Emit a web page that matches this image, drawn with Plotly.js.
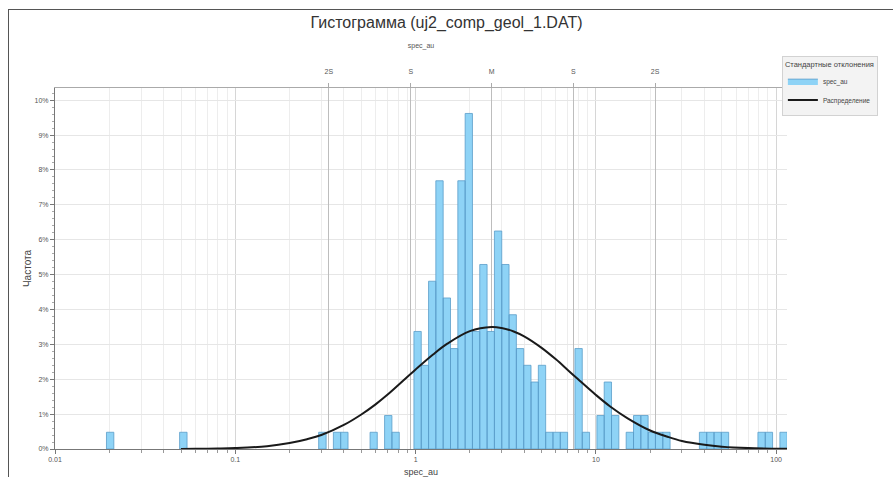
<!DOCTYPE html>
<html>
<head>
<meta charset="utf-8">
<script src="https://cdn.plot.ly/plotly-3.0.1.min.js"></script>
<style>
  html, body { margin: 0; padding: 0; background: #fff; overflow: hidden; }
  #chart { width: 893px; height: 477px; }
  #frame { position: absolute; left: 8px; top: 9px; width: 900px; height: 480px;
           border-left: 1px solid #555; border-top: 1px solid #555; pointer-events: none; }
</style>
</head>
<body>
<div id="chart"></div>
<div id="frame"></div>
<script>
// ---- Data ----
// Histogram bins (log-spaced), lower / upper edges in spec_au units
const binLo = [0.0193, 0.0491, 0.290, 0.350, 0.384, 0.559, 0.673, 0.739,
  0.979, 1.075, 1.180, 1.295, 1.422, 1.562, 1.715, 1.883, 2.067, 2.270, 2.492, 2.737,
  3.005, 3.299, 3.622, 3.977, 4.367, 4.795, 5.265, 5.781, 6.348, 7.653, 8.403,
  10.13, 11.12, 12.21, 14.72, 16.17, 17.75, 19.49, 21.40, 23.50,
  37.50, 41.17, 45.21, 49.64, 79.21, 86.98, 104.86];
const binHi = [0.0212, 0.0540, 0.319, 0.384, 0.422, 0.613, 0.739, 0.812,
  1.075, 1.180, 1.295, 1.422, 1.562, 1.715, 1.883, 2.067, 2.270, 2.492, 2.737, 3.005,
  3.299, 3.622, 3.977, 4.367, 4.795, 5.265, 5.781, 6.348, 6.970, 8.403, 9.226,
  11.12, 12.21, 13.41, 16.17, 17.75, 19.49, 21.40, 23.50, 25.80,
  41.17, 45.21, 49.64, 54.50, 86.98, 95.50, 115.1];
// Frequency, percent
const freq = [0.48, 0.48, 0.48, 0.48, 0.48, 0.48, 0.96, 0.48,
  3.37, 2.40, 4.81, 7.69, 4.33, 2.88, 7.69, 9.62, 3.37, 5.29, 3.37, 6.25,
  5.29, 3.85, 2.88, 2.40, 1.92, 2.40, 0.48, 0.48, 0.48, 2.88, 0.48,
  0.96, 1.92, 0.96, 0.48, 0.96, 0.96, 0.48, 0.48, 0.48,
  0.48, 0.48, 0.48, 0.48, 0.48, 0.48, 0.48];

// Fitted distribution curve
const curveX = [0.05, 0.06, 0.08, 0.1, 0.15, 0.2, 0.25, 0.3, 0.4, 0.5, 0.6, 0.7, 1, 1.25, 1.5, 2,
  2.64, 3, 3.5, 4, 5, 6, 7, 8, 10, 12, 15, 20, 25, 30, 40, 50, 70, 100, 115];
const curveY = [0.003, 0.005, 0.013, 0.026, 0.08, 0.17, 0.28, 0.40, 0.69, 0.99, 1.28, 1.56, 2.28, 2.71, 3.02, 3.38,
  3.50, 3.47, 3.37, 3.23, 2.90, 2.57, 2.26, 1.99, 1.55, 1.22, 0.88, 0.53, 0.35, 0.23, 0.12, 0.067, 0.026, 0.008, 0.004];

// Standard-deviation marks (top axis)
const sdVals = [0.33, 0.94, 2.64, 7.5, 21.3];
const sdLabels = ['2S', 'S', 'M', 'S', '2S'];

// Y ticks
const yTickVals = [0, 1, 2, 3, 4, 5, 6, 7, 8, 9, 10];
const yTickText = ['0%', '1%', '2%', '3%', '4%', '5%', '6%', '7%', '8%', '9%', '10%'];

// ---- Build bar rectangles from the bins ----
const bx = [], by = [];
for (let i = 0; i < binLo.length; i++) {
  bx.push(binLo[i], binLo[i], binHi[i], binHi[i], binLo[i], null);
  by.push(0, freq[i], freq[i], 0, 0, null);
}

const FONT = '"Liberation Sans Narrow", "Liberation Sans", Arial, sans-serif';

const traces = [
  {
    x: bx, y: by, type: 'scatter', mode: 'lines', fill: 'toself',
    fillcolor: '#8ed3f6', line: { color: '#5a9dc9', width: 0.8 },
    name: 'spec_au', hoverinfo: 'skip'
  },
  {
    x: curveX, y: curveY, type: 'scatter', mode: 'lines',
    line: { color: '#1a1a1a', width: 2, shape: 'spline', smoothing: 1.0 },
    name: 'Распределение'
  },
  {
    // anchors the standard-deviation axis on top
    x: sdVals, y: sdVals.map(() => 0), xaxis: 'x2', yaxis: 'y',
    type: 'scatter', mode: 'markers', marker: { opacity: 0, size: 1 },
    showlegend: false, hoverinfo: 'skip'
  }
];

const xr = [-2.0, 2.06];

const layout = {
  width: 893, height: 477,
  margin: { l: 55, r: 106, t: 88, b: 28 },
  paper_bgcolor: '#ffffff', plot_bgcolor: '#ffffff',
  font: { family: FONT, color: '#555', size: 7 },
  title: {
    text: 'Гистограмма (uj2_comp_geol_1.DAT)',
    font: { family: FONT, size: 16, color: '#333' },
    x: 0.5, xref: 'container', xanchor: 'center',
    y: 0.952, yref: 'container', yanchor: 'middle'
  },
  xaxis: {
    type: 'log', range: xr, dtick: 1, exponentformat: 'none',
    showline: true, linecolor: '#777', linewidth: 1,
    ticks: 'outside', ticklen: 4, tickcolor: '#777',
    showgrid: true, gridcolor: '#d6d6d6', gridwidth: 1,
    zeroline: false,
    tickfont: { size: 7, color: '#555' },
    minor: { ticks: 'outside', ticklen: 3, tickcolor: '#999', showgrid: true, gridcolor: '#ededed', dtick: 'D1' },
    title: { text: 'spec_au', font: { size: 9, color: '#444' }, standoff: 7 }
  },
  xaxis2: {
    type: 'log', range: xr, overlaying: 'x', side: 'top', anchor: 'y',
    tickmode: 'array', tickvals: sdVals, ticktext: sdLabels,
    showline: true, linecolor: '#aaa', linewidth: 1,
    ticks: 'outside', ticklen: 4, tickcolor: '#aaa', ticklabelstandoff: 6,
    showgrid: true, gridcolor: '#bdbdbd', gridwidth: 1,
    zeroline: false,
    tickfont: { size: 7, color: '#555' },
    title: { text: 'spec_au', font: { size: 7, color: '#555' }, standoff: 18 }
  },
  yaxis: {
    range: [0, 10.35], tickmode: 'array', tickvals: yTickVals, ticktext: yTickText,
    showline: true, linecolor: '#777', linewidth: 1,
    ticks: 'outside', ticklen: 4, tickcolor: '#777',
    showgrid: true, gridcolor: '#e6e6e6', zeroline: false,
    tickfont: { size: 7, color: '#555' },
    minor: { ticks: 'outside', ticklen: 2, tickcolor: '#aaa', dtick: 0.2, showgrid: false },
    title: { text: 'Частота', font: { size: 10, color: '#444' }, standoff: 1 }
  },
  showlegend: true,
  legend: {
    x: 0.993, xanchor: 'left', y: 1.089, yanchor: 'top',
    bgcolor: '#f3f3f3', bordercolor: '#d2d2d2', borderwidth: 1,
    font: { size: 6.5, color: '#444' },
    title: { text: 'Стандартные отклонения', font: { size: 7.5, color: '#444' } },
    itemwidth: 30, tracegroupgap: 0
  }
};

Plotly.newPlot('chart', traces, layout, { staticPlot: true, displayModeBar: false });
</script>
</body>
</html>
